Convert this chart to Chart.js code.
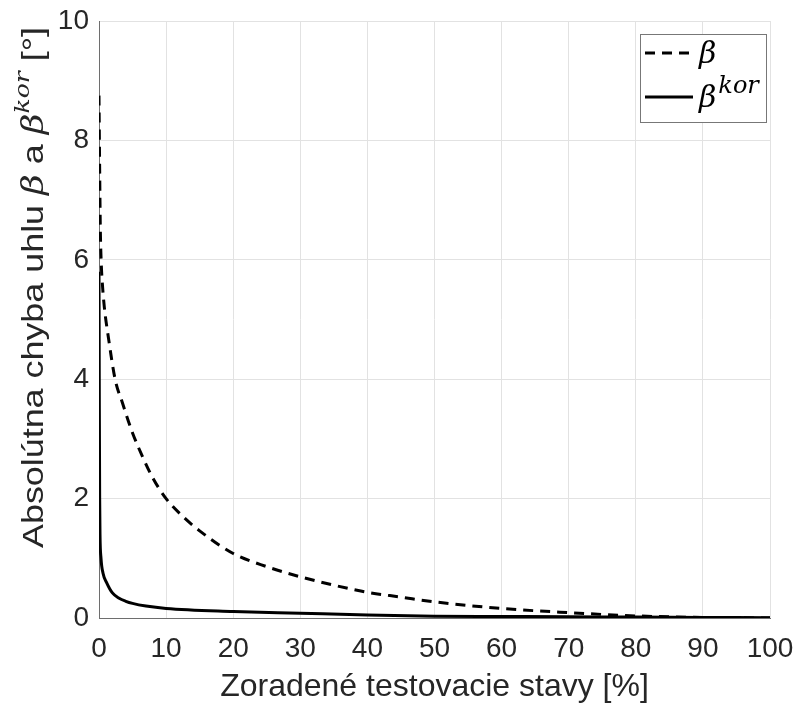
<!DOCTYPE html>
<html>
<head>
<meta charset="utf-8">
<style>
  html, body { margin: 0; padding: 0; background: #fff; }
  #wrap { width: 799px; height: 709px; position: relative; }
</style>
<script src="https://cdn.jsdelivr.net/npm/chart.js@4.4.0/dist/chart.umd.min.js"></script>
</head>
<body>
<div id="wrap"><canvas id="chart"></canvas></div>
<script>
// beta (dashed)
const betaX = [0, 0.1, 0.2, 0.35, 0.5, 0.8, 1.4, 2.4, 3.5, 5, 6.5, 8, 10, 12.5, 15, 20, 25, 30, 35, 40, 45, 50, 60, 70, 80, 90, 100];
const betaY = [8.75, 7.5, 6.5, 5.9, 5.6, 5.2, 4.7, 4.0, 3.6, 3.1, 2.7, 2.35, 2.0, 1.7, 1.46, 1.08, 0.86, 0.69, 0.55, 0.43, 0.35, 0.27, 0.16, 0.09, 0.035, 0.01, 0];

// beta kor (solid)
const korX = [0, 0.05, 0.1, 0.15, 0.3, 0.6, 1.15, 2, 3, 4, 5, 7, 10, 20, 30, 40, 50, 60, 70, 80, 90, 100];
const korY = [5.8, 3.5, 2.0, 1.4, 1.0, 0.75, 0.59, 0.42, 0.33, 0.28, 0.245, 0.2, 0.16, 0.11, 0.08, 0.05, 0.03, 0.025, 0.02, 0.015, 0.01, 0.005];

const xTitle = 'Zoradené testovacie stavy [%]';
const textColor = '#262626';
const sansFont = "'Liberation Sans', Arial, sans-serif";
const mathFont = "'DejaVu Serif', serif";

const toPoints = (xs, ys) => xs.map((x, i) => ({ x: x, y: ys[i] }));

// y axis title with italic beta and superscript
const yTitlePlugin = {
    id: 'yTitle',
    afterDraw(chart) {
        const ctx = chart.ctx;
        const parts = [
            { t: 'Absolútna chyba uhlu ', f: '30px ' + sansFont, dy: 0 },
            { t: 'β', f: 'italic 30px ' + mathFont, dy: 0 },
            { t: ' a ', f: '30px ' + sansFont, dy: 0 },
            { t: 'β', f: 'italic 30px ' + mathFont, dy: 0 },
            { t: 'kor', f: 'italic 21px ' + mathFont, dy: -14 },
            { t: ' [°]', f: '30px ' + sansFont, dy: 0 }
        ];
        ctx.save();
        let total = 0;
        parts.forEach(p => { ctx.font = p.f; p.w = ctx.measureText(p.t).width; total += p.w; });
        const len = 521;   // from y=548 up to y=27
        ctx.translate(43, 548);
        ctx.rotate(-Math.PI / 2);
        ctx.scale(len / total, 1);
        ctx.fillStyle = textColor;
        ctx.textBaseline = 'alphabetic';
        let pos = 0;
        parts.forEach(p => {
            ctx.font = p.f;
            ctx.fillText(p.t, pos, p.dy);
            pos += p.w;
        });
        ctx.restore();
    }
};

// legend box in the top right corner of the plot
const legendPlugin = {
    id: 'boxLegend',
    afterDraw(chart) {
        const ctx = chart.ctx;
        const area = chart.chartArea;
        const x0 = area.right - 130, y0 = area.top + 13, w = 126, h = 88;
        ctx.save();
        ctx.fillStyle = '#fff';
        ctx.fillRect(x0, y0, w, h);
        ctx.strokeStyle = '#777';
        ctx.lineWidth = 1;
        ctx.strokeRect(x0 + 0.5, y0 + 0.5, w, h);

        chart.data.datasets.forEach((ds, i) => {
            const ly = y0 + 19 + i * 44;
            ctx.beginPath();
            ctx.strokeStyle = ds.borderColor;
            ctx.lineWidth = ds.borderWidth;
            ctx.setLineDash(ds.borderDash || []);
            ctx.moveTo(x0 + 5, ly);
            ctx.lineTo(x0 + 53, ly);
            ctx.stroke();
            ctx.setLineDash([]);
            ctx.fillStyle = '#000';
            ctx.textBaseline = 'middle';
            ctx.font = 'italic 30px ' + mathFont;
            ctx.fillText('β', x0 + 59, ly + 2);
            if (i === 1) {
                const bw = ctx.measureText('β').width;
                ctx.font = 'italic 24px ' + mathFont;
                ctx.fillText('kor', x0 + 59 + bw + 2, ly - 10);
            }
        });
        ctx.restore();
    }
};

const ctx = document.getElementById('chart').getContext('2d');
new Chart(ctx, {
    type: 'line',
    data: {
        datasets: [
            {
                label: 'β',
                data: toPoints(betaX, betaY),
                borderColor: '#000',
                borderWidth: 3,
                borderDash: [10, 7],
                pointRadius: 0,
                cubicInterpolationMode: 'monotone',
                fill: false
            },
            {
                label: 'βkor',
                data: toPoints(korX, korY),
                borderColor: '#000',
                borderWidth: 3,
                pointRadius: 0,
                cubicInterpolationMode: 'monotone',
                fill: false
            }
        ]
    },
    options: {
        responsive: true,
        maintainAspectRatio: false,
        animation: false,
        devicePixelRatio: 1,
        layout: { padding: { left: 0, top: 21, right: 29, bottom: 3 } },
        plugins: {
            legend: { display: false },
            tooltip: { enabled: false }
        },
        scales: {
            x: {
                type: 'linear',
                min: 0,
                max: 100,
                ticks: { stepSize: 10, color: textColor, padding: 2, font: { family: sansFont, size: 28 } },
                // transparent ticks only push the labels away from the axis
                grid: { color: '#e2e2e2', drawTicks: true, tickLength: 12, tickColor: 'rgba(0,0,0,0)' },
                border: { color: '#6e6e6e' },
                title: {
                    display: true,
                    text: xTitle,
                    color: textColor,
                    font: { family: sansFont, size: 32 },
                    padding: 0
                },
                afterFit(scale) { scale.height = 88; }
            },
            y: {
                type: 'linear',
                min: 0,
                max: 10,
                ticks: { stepSize: 2, color: textColor, padding: 2, font: { family: sansFont, size: 28 } },
                grid: { color: '#e2e2e2', drawTicks: true, tickLength: 8, tickColor: 'rgba(0,0,0,0)' },
                border: { color: '#6e6e6e' },
                afterFit(scale) { scale.width = 99; }
            }
        }
    },
    plugins: [yTitlePlugin, legendPlugin]
});
</script>
</body>
</html>
